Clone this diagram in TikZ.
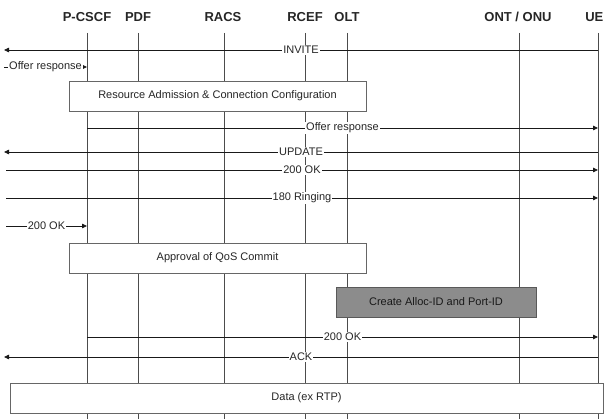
\documentclass[tikz,border=0pt]{standalone}
\usepackage{fontspec}
\setmainfont{Liberation Sans}
\usetikzlibrary{arrows.meta}
\begin{document}
\begin{tikzpicture}[x=1pt,y=-1pt,
  hdr/.style={font=\bfseries\fontsize{13}{15}\selectfont, text=black!85, inner sep=0pt},
  life/.style={draw=black!70, line width=0.8pt},
  msg/.style={draw=black!90, line width=0.8pt, -{Triangle[length=5pt,width=4.5pt]}},
  lbl/.style={fill=white, inner sep=1pt, font=\fontsize{11}{13}\selectfont, text=black!85, midway},
  proc/.style={draw=black!60, fill=white, line width=0.8pt, font=\fontsize{11}{13}\selectfont, text=black!85, minimum height=30pt, inner sep=0pt},
  dark/.style={proc, fill=black!45, draw=black!65, text=black!90}
]
\useasboundingbox (0,0) rectangle (604,419);
% headers
\node[hdr] (hp) at (87,17) {P-CSCF};
\node[hdr] (hd) at (138,17) {PDF};
\node[hdr] (hr) at (223,17) {RACS};
\node[hdr] (hc) at (305,17) {RCEF};
\node[hdr] (ho) at (347,17) {OLT};
\node[hdr] (hn) at (518,17) {ONT / ONU};
\node[hdr, anchor=east] (hu) at (603.5,17) {UE};
% lifelines
\foreach \n/\x in {p/87,d/138,r/224,c/305,o/347,n/519,u/598}{
  \coordinate (\n t) at (\x,33);
  \coordinate (\n b) at (\x,419);
  \draw[life] (\n t) -- (\n b);
}
% message endpoints
\coordinate (m1a) at (598,50);  \coordinate (m1b) at (4,50);
\coordinate (m2a) at (4,67);    \coordinate (m2b) at (87,67);
\coordinate (m3a) at (87,128);  \coordinate (m3b) at (598,128);
\coordinate (m4a) at (598,152); \coordinate (m4b) at (4,152);
\coordinate (m5a) at (6,170);   \coordinate (m5b) at (598,170);
\coordinate (m6a) at (6,198);   \coordinate (m6b) at (598,198);
\coordinate (m7a) at (6,226);   \coordinate (m7b) at (87,226);
\coordinate (m8a) at (87,337);  \coordinate (m8b) at (598,337);
\coordinate (m9a) at (598,357); \coordinate (m9b) at (4,357);
% messages
\draw[msg] (m1a) -- node[lbl]{INVITE} (m1b);
\draw[msg] (m2a) -- node[lbl]{Offer response} (m2b);
\draw[msg] (m3a) -- node[lbl]{Offer response} (m3b);
\draw[msg] (m4a) -- node[lbl]{UPDATE} (m4b);
\draw[msg] (m5a) -- node[lbl]{200 OK} (m5b);
\draw[msg] (m6a) -- node[lbl]{180 Ringing} (m6b);
\draw[msg] (m7a) -- node[lbl]{200 OK} (m7b);
\draw[msg] (m8a) -- node[lbl]{200 OK} (m8b);
\draw[msg] (m9a) -- node[lbl]{ACK} (m9b);
% process boxes
\node[proc, minimum width=297pt] (b1) at (217.5,96) {Resource Admission \& Connection Configuration};
\node[proc, minimum width=297pt] (b2) at (217.5,258) {Approval of QoS Commit};
\node[dark, minimum width=200pt] (b3) at (436,302) {Create Alloc-ID and Port-ID};
\node[proc, minimum width=593pt] (b4) at (306.5,398) {Data (ex RTP)};
\end{tikzpicture}
\end{document}
